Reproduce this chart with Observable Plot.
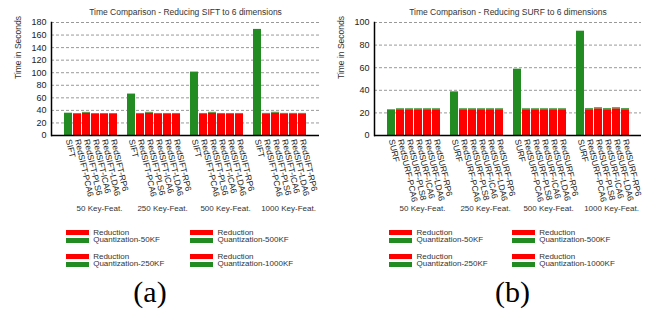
<!DOCTYPE html>
<html><head><meta charset="utf-8">
<script src="https://cdn.jsdelivr.net/npm/d3@7"></script>
<script src="https://cdn.jsdelivr.net/npm/@observablehq/plot@0.6"></script>
<style>
body{margin:0;background:#fff;}
#root{position:relative;width:656px;height:311px;overflow:hidden;font-family:"Liberation Sans",Arial,sans-serif;background:#fff;}
.panel{position:absolute;top:0;}
.sw{position:absolute;height:5px;width:23px;}
.lt{position:absolute;font-size:8px;color:#333;line-height:7.7px;white-space:nowrap;}
.cap{position:absolute;font-family:"Liberation Serif","Times New Roman",serif;font-size:30px;line-height:30px;color:#000;transform:translateX(-50%);}
</style></head><body><div id="root"></div>
<script>
// ---- data ----
const groups = ["50 Key-Feat.", "250 Key-Feat.", "500 Key-Feat.", "1000 Key-Feat."];
const siftMethods = ["SIFT", "RedSIFT-PCA6", "RedSIFT-PLS6", "RedSIFT-ICA6", "RedSIFT-LDA6", "RedSIFT-RP6"];
const surfMethods = ["SURF", "RedSURF-PCA6", "RedSURF-PLS8", "RedSURF-ICA6", "RedSURF-LDA6", "RedSURF-RP6"];
// full-descriptor quantization time per group (green bars)
const siftFull = [35.5, 66, 101, 169];
const surfFull = [22.7, 38.6, 58.7, 92.3];
// reduction time (red) per group for PCA6, PLS, ICA6, LDA6, RP6
const siftReduction = [
  [33.8, 35.6, 33.8, 33.8, 33.8],
  [33.8, 35.6, 33.8, 33.8, 33.8],
  [33.8, 35.6, 33.8, 33.8, 33.8],
  [33.8, 35.6, 33.8, 33.8, 33.8]
];
const surfReduction = [
  [22.8, 22.8, 22.8, 22.8, 22.8],
  [22.8, 22.8, 22.8, 22.8, 22.8],
  [22.8, 22.8, 22.8, 22.8, 22.8],
  [22.8, 23.6, 22.8, 23.6, 22.8]
];
// quantization time of reduced descriptors per group (green tops)
const siftReducedQuant = [1.2, 1.3, 1.3, 1.4];
const surfReducedQuant = [0.8, 0.8, 0.8, 0.9];
const siftTicks = [0, 20, 40, 60, 80, 100, 120, 140, 160, 180];
const surfTicks = [0, 20, 40, 60, 80, 100];
const yLabel = "Time in Seconds";
const legendParts = ["Reduction", "Quantization"];
const legendLabels = ["Quantization-50KF", "Quantization-500KF", "Quantization-250KF", "Quantization-1000KF"];
const captions = ["(a)", "(b)"];

const colors = ["#ff0000", "#228b22"];

function makePanel(cfg) {
  const keys = [], ticks = [], rows = [];
  groups.forEach((g, gi) => {
    if (gi > 0) keys.push("gap" + gi);
    cfg.methods.forEach((m, mi) => {
      const key = g + "|" + m;
      keys.push(key); ticks.push(key);
      const red = mi === 0 ? 0 : cfg.reduction[gi][mi - 1];
      const q = mi === 0 ? cfg.full[gi] : cfg.quant[gi];
      rows.push({key, part: "Reduction", value: red});
      rows.push({key, part: "Quantization", value: q});
    });
  });
  return Plot.plot({
    width: cfg.width, height: 215,
    marginLeft: cfg.ml, marginRight: cfg.mr, marginTop: 22, marginBottom: 80,
    style: {fontFamily: "'Liberation Sans', Arial, sans-serif", fontSize: "9px", color: "#222", background: "white", overflow: "visible"},
    x: {domain: keys, paddingInner: 0.165, paddingOuter: 0.57, axis: null},
    y: {domain: [0, cfg.yMax], axis: null},
    color: {domain: legendParts, range: colors},
    marks: [
      Plot.gridY({ticks: cfg.yTicks.filter(d => d > 0), stroke: "#999", strokeOpacity: 1, strokeDasharray: "3,2"}),
      Plot.barY(rows, {x: "key", y: "value", fill: "part", order: legendParts}),
      Plot.axisY({ticks: cfg.yTicks, tickSize: 0, tickPadding: 5, label: null, fontSize: 9}),
      Plot.text([yLabel], {frameAnchor: "left", rotate: -90, dx: -33, fontSize: 8.5, fill: "#333"}),
      Plot.axisX({ticks, tickSize: 0, tickRotate: 77, tickFormat: k => k.split("|")[1], tickPadding: 4, label: null, fontSize: 8.5}),
      Plot.ruleY([0], {stroke: "#000", strokeWidth: 1.5}),
      Plot.frame({anchor: "left", stroke: "#000", strokeWidth: 1.5}),
      Plot.text([cfg.title], {frameAnchor: "top", dy: -13.5, fontSize: 8.5, fill: "#333"}),
      Plot.text(groups, {x: g => g + "|" + cfg.methods[3], frameAnchor: "bottom", dy: 75, dx: 4, fontSize: 8, fill: "#333"})
    ]
  });
}

const root = document.getElementById("root");
const panels = [
  {left: 0, width: 330, ml: 51, mr: 11, methods: siftMethods, full: siftFull, reduction: siftReduction, quant: siftReducedQuant, yMax: 180, yTicks: siftTicks, title: "Time Comparison - Reducing SIFT to 6 dimensions", legendX: [65.7, 190], capX: 150},
  {left: 330, width: 326, ml: 44, mr: 15, methods: surfMethods, full: surfFull, reduction: surfReduction, quant: surfReducedQuant, yMax: 100, yTicks: surfTicks, title: "Time Comparison - Reducing SURF to 6 dimensions", legendX: [389, 511.7], capX: 512.5}
];
panels.forEach((p, pi) => {
  const svg = makePanel(p);
  svg.classList.add("panel");
  svg.style.left = p.left + "px";
  root.appendChild(svg);
  legendLabels.forEach((lab, li) => {
    const col = li % 2, row = Math.floor(li / 2);
    const x = p.legendX[col];
    const y0 = 230 + row * 24;
    [0, 1].forEach(k => {
      const sw = document.createElement("div");
      sw.className = "sw";
      sw.style.left = x + "px";
      sw.style.top = (y0 + k * 7.7) + "px";
      sw.style.background = colors[k];
      root.appendChild(sw);
    });
    const t = document.createElement("div");
    t.className = "lt";
    t.innerHTML = legendParts[0] + "<br>" + lab;
    t.style.left = (x + 27.5) + "px";
    t.style.top = (y0 - 1.4) + "px";
    root.appendChild(t);
  });
  const c = document.createElement("div");
  c.className = "cap";
  c.textContent = captions[pi];
  c.style.left = p.capX + "px";
  c.style.top = "277px";
  root.appendChild(c);
});
</script>
</body></html>
